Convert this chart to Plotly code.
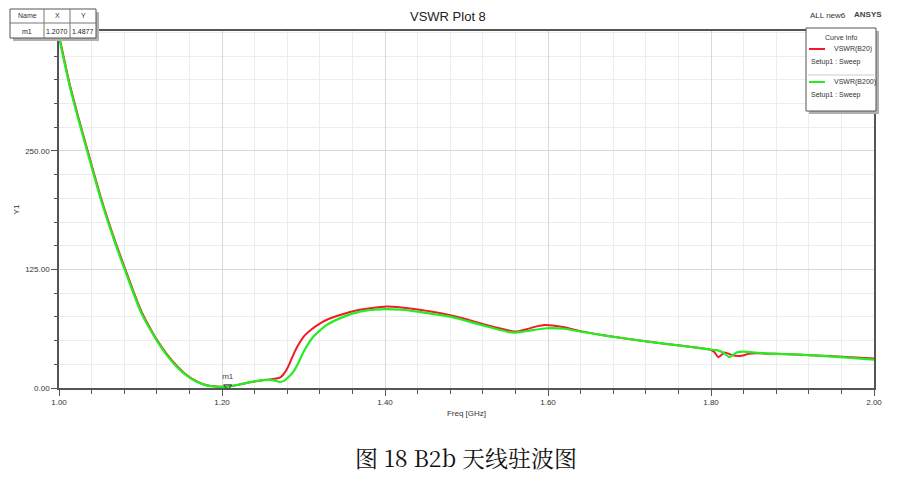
import plotly.graph_objects as go

# ---------------- data ----------------
freq_b20 = [1.000, 1.007, 1.0135, 1.022, 1.030, 1.042, 1.051, 1.0605, 1.070, 1.081,
            1.090, 1.100, 1.110, 1.120, 1.132, 1.145, 1.157, 1.169, 1.181, 1.1935,
            1.207, 1.220, 1.238, 1.250, 1.259, 1.265, 1.271, 1.275, 1.279, 1.283,
            1.2875, 1.292, 1.300, 1.310, 1.320, 1.330, 1.341, 1.361, 1.382, 1.402,
            1.420, 1.440, 1.460, 1.480, 1.500, 1.520, 1.540, 1.553, 1.562, 1.574,
            1.586, 1.596, 1.606, 1.620, 1.640, 1.672, 1.713, 1.745, 1.774, 1.799,
            1.804, 1.809, 1.817, 1.8254, 1.8377, 1.8458, 1.856, 1.880, 1.909, 1.950,
            2.000]
vswr_b20 = [372, 344, 319, 291, 266, 229, 202, 176, 152, 126,
            105, 83, 66, 51, 36, 23, 13.5, 7, 3, 1.5,
            1.49, 3.5, 6.7, 8.2, 9, 9.8, 11, 14, 19, 26,
            35, 43, 54, 62, 68, 72.5, 76, 81, 84, 86,
            85, 82.8, 80.2, 76.8, 72.5, 67.5, 63, 60.5, 59.5, 62,
            65, 66.5, 66, 64, 60, 55, 50, 46.5, 43.5, 40.5,
            38, 32.5, 37.5, 34.8, 34, 36, 36.6, 36, 35, 33.5,
            31]

freq_b200 = [1.000, 1.007, 1.0135, 1.022, 1.030, 1.042, 1.051, 1.0605, 1.070, 1.081,
             1.090, 1.100, 1.110, 1.120, 1.132, 1.145, 1.157, 1.169, 1.181, 1.1935,
             1.207, 1.220, 1.238, 1.250, 1.259, 1.266, 1.271, 1.276, 1.281, 1.2875,
             1.294, 1.300, 1.312, 1.3285, 1.349, 1.369, 1.394, 1.420, 1.440, 1.460,
             1.480, 1.500, 1.520, 1.540, 1.552, 1.5595, 1.568, 1.578, 1.598, 1.620,
             1.640, 1.672, 1.713, 1.745, 1.774, 1.799, 1.807, 1.815, 1.8225, 1.8315,
             1.8397, 1.856, 1.880, 1.909, 1.950, 2.000]
vswr_b200 = [370, 342, 317, 289, 264, 227, 200, 174, 150, 124,
             103, 81, 64.5, 50, 35, 22, 12.8, 6.5, 2.7, 1.3,
             1.4, 3.4, 6.7, 8.2, 8.5, 7.5, 6.5, 7.5, 11, 17,
             27, 38, 54, 66.5, 75, 80.5, 83, 82.5, 80.5, 78,
             75.3, 70.8, 66, 61.5, 59, 58.5, 59.2, 60.5, 63, 62.5,
             59.5, 55, 50, 46.5, 43.5, 40.5, 40, 37.5, 32.5, 37.5,
             38.3, 37.2, 36, 35.3, 33, 30]

marker_name = "m1"
marker_x = 1.2070
marker_y = 1.4877

x_tickvals = [1.0, 1.2, 1.4, 1.6, 1.8, 2.0]
y_tickvals = [0, 125, 250]

# ---------------- layout helpers ----------------
OFF = 8                      # page body margin
W, H = 909 - OFF, 481 - OFF
L, R, T, B = 59, 874, 31, 388  # plot area in page pixels


def px(x):
    return (x - L) / (R - L)


def py(y):
    return (B - y) / (B - T)


FONT = "Liberation Sans, Arial, sans-serif"

fig = go.Figure()
fig.add_trace(go.Scatter(x=freq_b20, y=vswr_b20, mode="lines", name="VSWR(B20)",
                         line=dict(color="#ee1c24", width=2, shape="spline", smoothing=0.5),
                         showlegend=False))
fig.add_trace(go.Scatter(x=freq_b200, y=vswr_b200, mode="lines", name="VSWR(B200)",
                         line=dict(color="#22ee22", width=2.2, shape="spline", smoothing=0.5),
                         showlegend=False))
fig.add_trace(go.Scatter(x=[marker_x], y=[marker_y], mode="markers+text",
                         marker=dict(symbol="triangle-down-open", size=7,
                                     color="#333333", line=dict(width=1)),
                         text=[marker_name], textposition="top center",
                         textfont=dict(family=FONT, size=8, color="#444444"),
                         showlegend=False, cliponaxis=False))

fig.update_layout(
    width=W, height=H,
    margin=dict(l=L - OFF, r=(OFF + W) - R, t=T - OFF, b=(OFF + H) - B, autoexpand=False),
    paper_bgcolor="white", plot_bgcolor="white",
    showlegend=False,
    font=dict(family=FONT, size=9, color="#333333"),
)

fig.update_xaxes(
    range=[1.0, 2.0], tickvals=x_tickvals, tickformat=".2f", automargin=False,
    showline=True, linecolor="#555555", linewidth=1.5, mirror=True,
    ticks="outside", ticklen=6, tickcolor="#555555",
    showgrid=True, gridcolor="#d8d8d8", gridwidth=1,
    minor=dict(dtick=0.04, tick0=1.0, showgrid=True, gridcolor="#ececec",
               ticks="outside", ticklen=4, tickcolor="#555555"),
    tickfont=dict(size=8, color="#333333"),
    title=dict(text="Freq [GHz]", font=dict(size=8, color="#333333"), standoff=4),
    zeroline=False,
)
fig.update_yaxes(
    range=[0, 376.5], tickvals=y_tickvals, tickformat=".2f", automargin=False,
    showline=True, linecolor="#555555", linewidth=1.5, mirror=True,
    ticks="outside", ticklen=6, tickcolor="#555555",
    showgrid=True, gridcolor="#d8d8d8", gridwidth=1,
    minor=dict(dtick=25, tick0=0, showgrid=True, gridcolor="#ececec",
               ticks="outside", ticklen=3, tickcolor="#555555"),
    tickfont=dict(size=8, color="#333333"),
    title=dict(text="Y1", font=dict(size=8, color="#333333"), standoff=4),
    zeroline=False,
)

shapes = []
ann = []

# title and labels
ann.append(dict(x=px(448), y=py(17), xref="paper", yref="paper",
                text="VSWR Plot 8", showarrow=False, xanchor="center", yanchor="middle",
                font=dict(family=FONT, size=13, color="#222222")))
ann.append(dict(x=px(808), y=py(16), xref="paper", yref="paper", text="ALL new6",
                showarrow=False, xanchor="left", yanchor="middle",
                font=dict(family=FONT, size=8, color="#333333")))
ann.append(dict(x=px(852), y=py(15), xref="paper", yref="paper", text="<b>ANSYS</b>",
                showarrow=False, xanchor="left", yanchor="middle",
                font=dict(family=FONT, size=8, color="#444444")))

# marker table
tx0, tx1, ty0, ty1 = 10, 96, 9, 38
shapes.append(dict(type="rect", xref="paper", yref="paper", x0=px(tx0 + 3), x1=px(tx1 + 3),
                   y0=py(ty0 + 3), y1=py(ty1 + 3), fillcolor="#b0b0b0", line=dict(width=0),
                   layer="above"))
shapes.append(dict(type="rect", xref="paper", yref="paper", x0=px(tx0), x1=px(tx1),
                   y0=py(ty0), y1=py(ty1), fillcolor="white", line=dict(color="#555555", width=1),
                   layer="above"))
for cx in (44, 70):
    shapes.append(dict(type="line", xref="paper", yref="paper", x0=px(cx), x1=px(cx),
                       y0=py(ty0), y1=py(ty1), line=dict(color="#777777", width=1), layer="above"))
shapes.append(dict(type="line", xref="paper", yref="paper", x0=px(tx0), x1=px(tx1),
                   y0=py(23), y1=py(23), line=dict(color="#777777", width=1), layer="above"))
for cx, h, v in ((27, "Name", marker_name), (57, "X", f"{marker_x:.4f}"), (83, "Y", f"{marker_y:.4f}")):
    ann.append(dict(x=px(cx), y=py(16), xref="paper", yref="paper", text=h, showarrow=False,
                    xanchor="center", yanchor="middle", font=dict(family=FONT, size=7, color="#333333")))
    ann.append(dict(x=px(cx), y=py(31), xref="paper", yref="paper", text=v, showarrow=False,
                    xanchor="center", yanchor="middle", font=dict(family=FONT, size=7, color="#222222")))

# curve info box
lx0, lx1, ly0, ly1 = 806, 876, 28, 111
shapes.append(dict(type="rect", xref="paper", yref="paper", x0=px(lx0 + 3), x1=px(lx1 + 3),
                   y0=py(ly0 + 3), y1=py(ly1 + 3), fillcolor="#b0b0b0", line=dict(width=0),
                   layer="above"))
shapes.append(dict(type="rect", xref="paper", yref="paper", x0=px(lx0), x1=px(lx1),
                   y0=py(ly0), y1=py(ly1), fillcolor="white", line=dict(color="#555555", width=1),
                   layer="above"))
shapes.append(dict(type="line", xref="paper", yref="paper", x0=px(lx0 + 2), x1=px(lx1 - 2),
                   y0=py(75), y1=py(75), line=dict(color="#cccccc", width=1), layer="above"))
ann.append(dict(x=px(841), y=py(37), xref="paper", yref="paper", text="Curve Info", showarrow=False,
                xanchor="center", yanchor="middle", font=dict(family=FONT, size=7, color="#333333")))
for yy, col, name in ((49, "#ee1c24", "VSWR(B20)"), (82, "#22ee22", "VSWR(B200)")):
    shapes.append(dict(type="line", xref="paper", yref="paper", x0=px(809), x1=px(825),
                       y0=py(yy), y1=py(yy), line=dict(color=col, width=2), layer="above"))
    ann.append(dict(x=px(832), y=py(yy), xref="paper", yref="paper", text=name, showarrow=False,
                    xanchor="left", yanchor="middle", font=dict(family=FONT, size=7, color="#333333")))
    ann.append(dict(x=px(809), y=py(yy + 13), xref="paper", yref="paper", text="Setup1 : Sweep",
                    showarrow=False, xanchor="left", yanchor="middle",
                    font=dict(family=FONT, size=7, color="#333333")))

# caption
ann.append(dict(x=px(466), y=py(457), xref="paper", yref="paper", text="图 18 B2b 天线驻波图",
                showarrow=False, xanchor="center", yanchor="middle",
                font=dict(family="Noto Serif CJK SC, Noto Sans CJK SC, serif", size=23, color="#111111")))

fig.update_layout(shapes=shapes, annotations=ann)
fig.write_html("out.html")
